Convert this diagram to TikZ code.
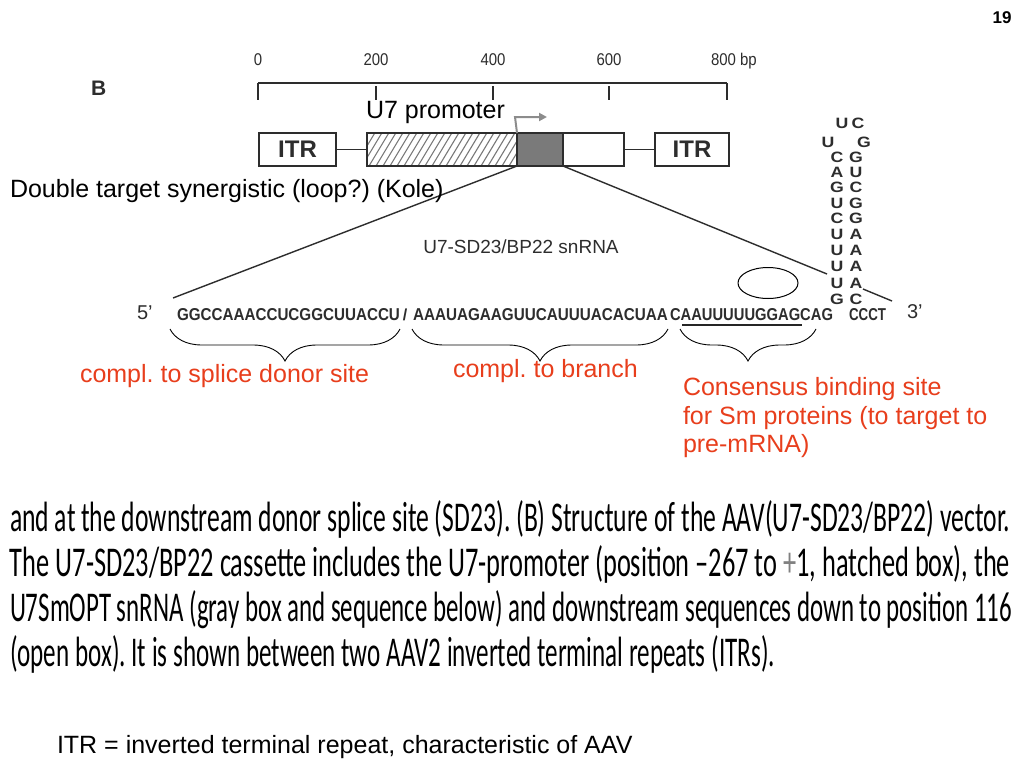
\documentclass[tikz,border=0pt]{standalone}
\usepackage{fontspec}
\setmainfont{Liberation Sans}
\newfontfamily\capfont{Carlito}
\newfontfamily\seqfont{Liberation Sans}
\newfontfamily\stemfont[FakeStretch=1.18]{Liberation Sans}
\newfontfamily\narrowfont[FakeStretch=0.88]{Liberation Sans}
\usetikzlibrary{arrows.meta,decorations.pathreplacing,shapes.geometric}
\definecolor{redtxt}{RGB}{232,62,28}
\definecolor{darkgray}{RGB}{45,45,45}
\definecolor{boxgray}{RGB}{122,122,122}
\definecolor{arrgray}{RGB}{140,140,140}
\frenchspacing
\begin{document}
\frenchspacing
\begin{tikzpicture}[x=1pt,y=-1pt,
  txt/.style={inner sep=0pt, outer sep=0pt},
  big/.style={txt, font=\frenchspacing\fontsize{25}{30}\selectfont},
  redlbl/.style={big, text=redtxt},
  vbox/.style={draw=darkgray, line width=1.4pt, inner sep=0pt, outer sep=0pt, minimum height=33pt},
  conn/.style={draw=darkgray, line width=1.2pt},
  brc/.style={draw=black, line width=0.9pt, decorate, decoration={brace, mirror, amplitude=32pt}},
  seq/.style={txt, anchor=base west, text=darkgray},
  stem/.style={txt, font=\stemfont\bfseries\fontsize{15}{15}\selectfont, text=darkgray},
  capline/.style={txt, anchor=base west}
]
\useasboundingbox (0,0) rectangle (1024,768);
\fill[white] (0,0) rectangle (1024,768);

% page number and panel letter
\node[txt, font=\bfseries\fontsize{17}{17}\selectfont] (pg) at (1002,18) {19};
\node[txt, anchor=base west, font=\bfseries\fontsize{21}{21}\selectfont, text=darkgray] (B) at (91,95) {B};

% scale bar
\coordinate (s0) at (258,83);
\coordinate (s8) at (727,83);
\draw[conn, line width=1.4pt] (s0) -- (s8);
\draw[conn, line width=1.4pt] (s0) -- ++(0,17);
\draw[conn, line width=1.4pt] (s8) -- ++(0,17);
\foreach \xx in {376,493,609} \draw[conn, line width=1.4pt] (\xx,86) -- (\xx,100);
\foreach \xx/\lab in {258/0,376/200,493/400,609/600}
  \node[txt, anchor=base, font=\narrowfont\fontsize{17}{17}\selectfont, text=darkgray] at (\xx,65) {\lab};
\node[txt, anchor=base west, font=\narrowfont\fontsize{17}{17}\selectfont, text=darkgray] (bp) at (711,65) {800 bp};

% vector boxes
\node[vbox, minimum width=77pt, font=\bfseries\fontsize{24}{24}\selectfont, text=darkgray] (itr1) at (297.5,149.5) {ITR};
\node[vbox, minimum width=150pt,
  path picture={\begin{scope}
    \foreach \i in {-40,-33,...,160}
      \draw[boxgray, line width=1.1pt] ([xshift=\i pt]path picture bounding box.south west) -- ++(24,-40);
  \end{scope}}] (prom) at (442,149.5) {};
\node[vbox, minimum width=46pt, fill=boxgray] (sn) at (540,149.5) {};
\node[vbox, minimum width=61pt] (down) at (593.5,149.5) {};
\node[vbox, minimum width=74pt, font=\bfseries\fontsize{24}{24}\selectfont, text=darkgray] (itr2) at (692,149.5) {ITR};
\draw[conn] (itr1.east) -- (prom.west);
\draw[conn] (down.east) -- (itr2.west);
\draw[darkgray, line width=1.4pt] (prom.north west) rectangle (down.south east);
\draw[darkgray, line width=1.4pt] (sn.north west) rectangle (sn.south east);

% promoter arrow
\coordinate (pa) at (515,117);
\coordinate (pb) at (547,117);
\draw[arrgray, line width=2pt, -{Triangle[length=8pt,width=8pt]}] (prom.north east) -- (pa) -- (pb);
\node[big, anchor=base west] (u7p) at (366,118) {U7 promoter};

% expansion lines
\coordinate (l5) at (173,298);
\coordinate (r1) at (827,274);
\coordinate (r2) at (863,289);
\coordinate (r3) at (892,301);
\draw[darkgray, line width=1.4pt] (sn.south west) -- (l5);
\draw[darkgray, line width=1.4pt] (sn.south east) -- (r1);
\draw[darkgray, line width=1.4pt] (r2) -- (r3);

\node[big, anchor=base west] (dbl) at (10,197) {Double target synergistic (loop?) (Kole)};
\node[txt, font=\fontsize{19}{19}\selectfont, text=darkgray] (snr) at (521,247) {U7-SD23/BP22 snRNA};

% sequence
\node[txt, anchor=base west, font=\fontsize{20}{20}\selectfont, text=darkgray] (p5) at (137,319) {5’};
\node[seq] (seq1) at (177,320) {\resizebox{223pt}{12pt}{\seqfont\bfseries GGCCAAACCUCGGCUUACCU}};
\node[txt, anchor=base, font=\bfseries\fontsize{16}{16}\selectfont, text=darkgray] (sl) at (405,320) {/};
\node[seq] (seq2) at (413,320) {\resizebox{255pt}{12pt}{\seqfont\bfseries AAAUAGAAGUUCAUUUACACUAA}};
\node[seq] (seq3) at (670,320) {\resizebox{163pt}{12pt}{\seqfont\bfseries CAAUUUUUGGAGCAG}};
\node[seq] (seq4) at (849,320) {\resizebox{37pt}{12pt}{\seqfont\bfseries CCCT}};
\node[txt, anchor=base west, font=\fontsize{20}{20}\selectfont, text=darkgray] (p3) at (907,318) {3’};

% stem-loop
\node[stem] (lpa) at (842,123) {U};
\node[stem] (lpb) at (858,123) {C};
\node[stem] (lpc) at (828,142) {U};
\node[stem] (lpd) at (864,142) {G};
\foreach \yy/\la/\lb [count=\k] in {157/C/G,172/A/U,187/G/C,203/U/G,218/C/G,234/U/A,250/U/A,266/U/A,283/U/A,299/G/C}{
  \node[stem] (stl\k) at (837,\yy) {\la};
  \node[stem] (str\k) at (856,\yy) {\lb};
}

% Sm site
\node[draw=black, line width=1pt, ellipse, minimum width=60pt, minimum height=31pt, inner sep=0pt] (sm) at (768,283) {};
\coordinate (ua) at (682,325);
\coordinate (ub) at (802,325);
\draw[black!85, line width=2.6pt] (ua) -- (ub);

% braces
\coordinate (b1a) at (170,329); \coordinate (b1b) at (400,329);
\coordinate (b2a) at (412,329); \coordinate (b2b) at (668,329);
\coordinate (b3a) at (680,329); \coordinate (b3b) at (816,329);
\draw[brc] (b1a) -- (b1b);
\draw[brc] (b2a) -- (b2b);
\draw[brc] (b3a) -- (b3b);

\node[redlbl, anchor=base west] (lab1) at (80,382) {compl. to splice donor site};
\node[redlbl, anchor=base west] (lab2) at (453,377) {compl. to branch};
\node[redlbl, anchor=base west] (lab3a) at (683,395) {Consensus binding site};
\node[redlbl, anchor=base west] (lab3b) at (683,424) {for Sm proteins (to target to};
\node[redlbl, anchor=base west] (lab3c) at (683,452) {pre-mRNA)};

% caption
\node[capline] (cap1) at (10,531) {\resizebox{1000pt}{31pt}{\capfont\frenchspacing and at the downstream donor splice site (SD23). (B) Structure of the AAV(U7-SD23/BP22) vector.}};
\node[capline] (cap2) at (10,576) {\resizebox{1000pt}{31pt}{\capfont\frenchspacing The U7-SD23/BP22 cassette includes the U7-promoter (position –267 to {\color{gray}+}1, hatched box), the}};
\node[capline] (cap3) at (10,621) {\resizebox{1002pt}{31pt}{\capfont\frenchspacing U7SmOPT snRNA (gray box and sequence below) and downstream sequences down to position 116}};
\node[capline] (cap4) at (10,666) {\resizebox{765pt}{31pt}{\capfont\frenchspacing (open box). It is shown between two AAV2 inverted terminal repeats (ITRs).}};

\node[big, anchor=base west] (itrdef) at (57,753) {ITR = inverted terminal repeat, characteristic of AAV};
\end{tikzpicture}
\end{document}
